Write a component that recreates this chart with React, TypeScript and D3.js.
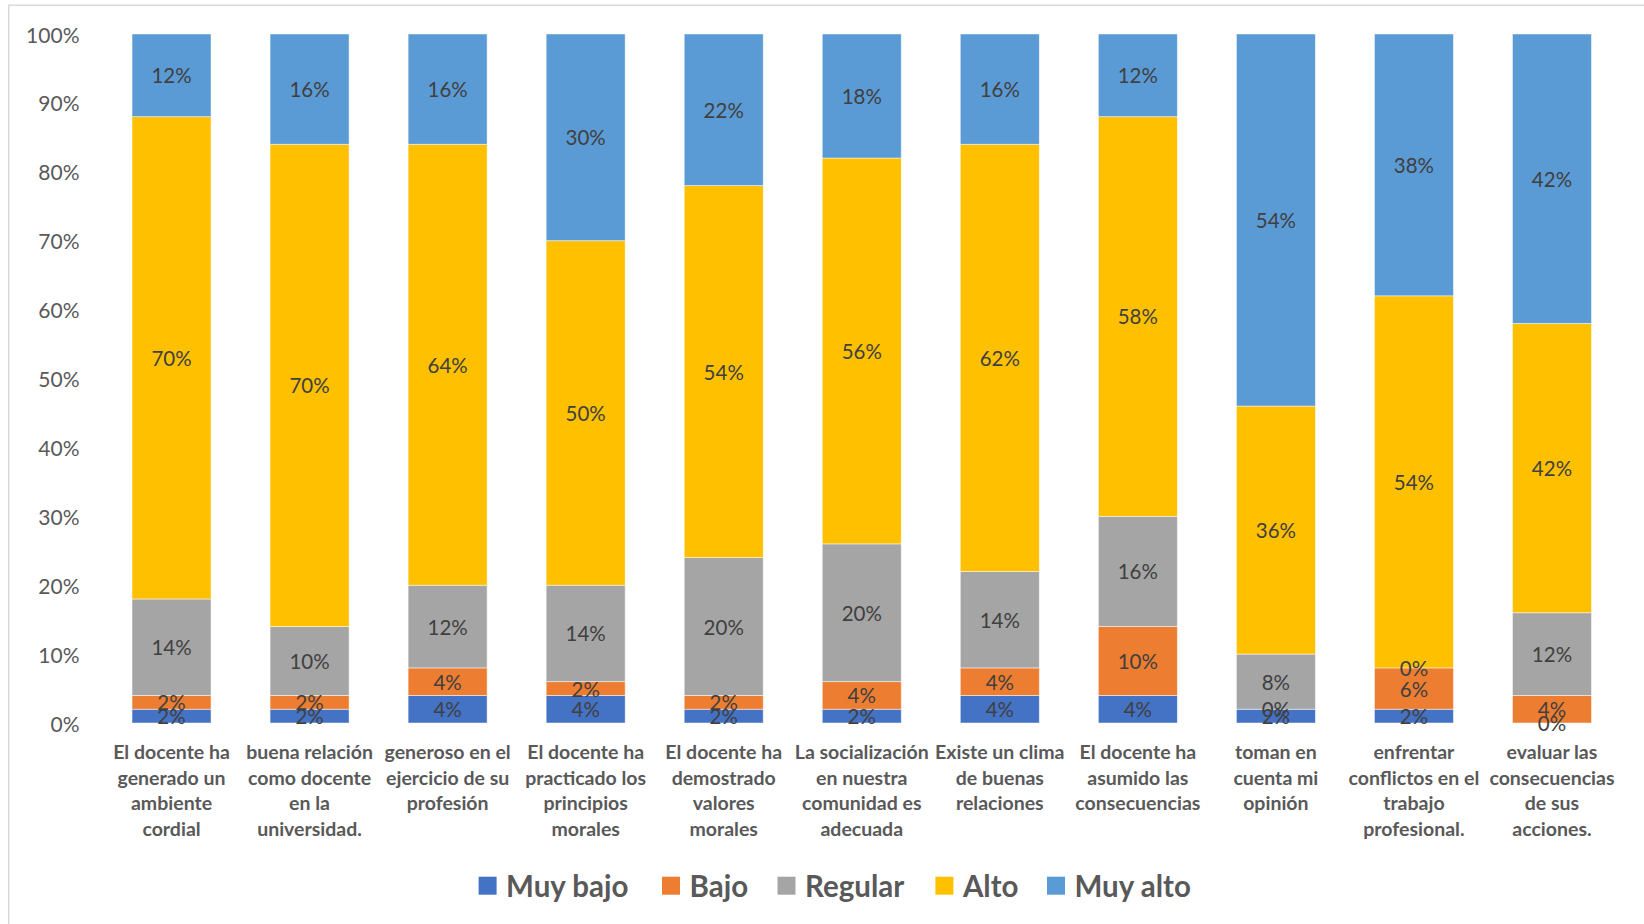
import React from "react";
import * as d3 from "d3";

const categories: string[] = [
  "El docente ha\ngenerado un\nambiente\ncordial",
  "buena relación\ncomo docente\nen la\nuniversidad.",
  "generoso en el\nejercicio de su\nprofesión",
  "El docente ha\npracticado los\nprincipios\nmorales",
  "El docente ha\ndemostrado\nvalores\nmorales",
  "La socialización\nen nuestra\ncomunidad es\nadecuada",
  "Existe un clima\nde buenas\nrelaciones",
  "El docente ha\nasumido las\nconsecuencias",
  "toman en\ncuenta mi\nopinión",
  "enfrentar\nconflictos en el\ntrabajo\nprofesional.",
  "evaluar las\nconsecuencias\nde sus\nacciones.",
];

const seriesNames = ["Muy bajo", "Bajo", "Regular", "Alto", "Muy alto"];
const seriesColors = ["#4472C4", "#ED7D31", "#A5A5A5", "#FFC000", "#5B9BD5"];

const muyBajo = [2, 2, 4, 4, 2, 2, 4, 4, 2, 2, 0];
const bajo = [2, 2, 4, 2, 2, 4, 4, 10, 0, 6, 4];
const regular = [14, 10, 12, 14, 20, 20, 14, 16, 8, 0, 12];
const alto = [70, 70, 64, 50, 54, 56, 62, 58, 36, 54, 42];
const muyAlto = [12, 16, 16, 30, 22, 18, 16, 12, 54, 38, 42];

const yTicks = [0, 10, 20, 30, 40, 50, 60, 70, 80, 90, 100];

const W = 1644;
const H = 924;
const FONT = "Lato, 'Open Sans', sans-serif";

export default function App() {
  const series = [muyBajo, bajo, regular, alto, muyAlto];
  const x = d3
    .scaleBand<string>()
    .domain(categories)
    .range([102.5, 1621])
    .paddingInner(0.4277)
    .paddingOuter(0.2139);
  const y = d3.scaleLinear().domain([0, 100]).range([723, 34]);

  const rows = categories.map((c, i) => {
    const r: any = { cat: c };
    seriesNames.forEach((s, k) => (r[s] = series[k][i]));
    return r;
  });
  const stacked = d3.stack<any>().keys(seriesNames)(rows);

  const legendX = [478.6, 662, 777.5, 935.4, 1047];
  const legendY = 885.7;

  return (
    <svg
      width={W}
      height={H}
      style={{ position: "absolute", left: 0, top: 0, background: "#fff" }}
      fontFamily={FONT}
    >
      <rect x={0} y={0} width={W} height={H} fill="#fff" />
      <rect
        x={8.75}
        y={5.25}
        width={W + 50}
        height={H + 50}
        fill="none"
        stroke="#D9D9D9"
        strokeWidth={1.5}
      />
      {yTicks.map((t) => (
        <text
          key={t}
          x={79.5}
          y={y(t)}
          textAnchor="end"
          dominantBaseline="central"
          fontSize={21}
          fill="#595959"
        >
          {t}%
        </text>
      ))}
      {stacked.map((layer, k) => (
        <g key={layer.key}>
          {layer.map((d, i) => (
            <rect
              key={i}
              x={x(categories[i])}
              y={y(d[1])}
              width={x.bandwidth()}
              height={Math.max(0, y(d[0]) - y(d[1]))}
              fill={seriesColors[k]}
              stroke="#fff"
              strokeOpacity={0.6}
              strokeWidth={0.8}
            />
          ))}
        </g>
      ))}
      {stacked.map((layer, k) => (
        <g key={"l" + layer.key}>
          {layer.map((d, i) => (
            <text
              key={i}
              x={(x(categories[i]) as number) + x.bandwidth() / 2}
              y={y((d[0] + d[1]) / 2)}
              textAnchor="middle"
              dominantBaseline="central"
              fontSize={20.5}
              fill="#404040"
            >
              {series[k][i]}%
            </text>
          ))}
        </g>
      ))}
      {categories.map((c, i) => (
        <text
          key={c}
          x={(x(c) as number) + x.bandwidth() / 2}
          textAnchor="middle"
          fontSize={19.5}
          fontWeight="bold"
          fill="#595959"
        >
          {c.split("\n").map((line, j) => (
            <tspan
              key={j}
              x={(x(c) as number) + x.bandwidth() / 2}
              y={751.7 + j * 25.6}
              dominantBaseline="central"
            >
              {line}
            </tspan>
          ))}
        </text>
      ))}
      {seriesNames.map((s, k) => (
        <g key={s}>
          <rect
            x={legendX[k]}
            y={legendY - 9}
            width={18}
            height={18}
            fill={seriesColors[k]}
          />
          <text
            x={legendX[k] + 27.5}
            y={legendY}
            dominantBaseline="central"
            fontSize={29.5}
            fontWeight="bold"
            fill="#595959"
          >
            {s}
          </text>
        </g>
      ))}
    </svg>
  );
}
